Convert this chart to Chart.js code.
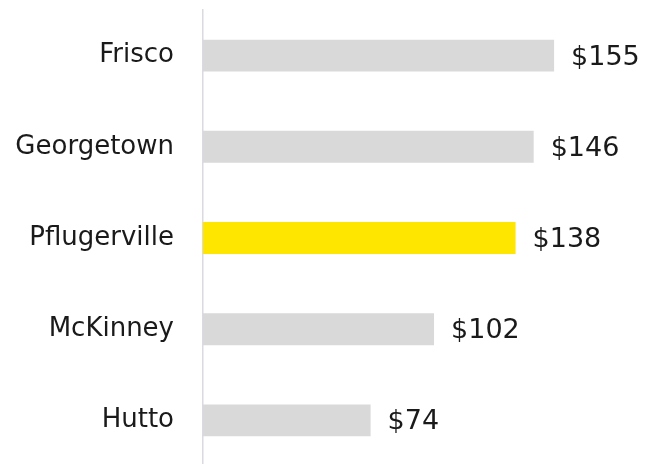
<!DOCTYPE html>
<html>
<head>
<meta charset="utf-8">
<script src="https://cdn.jsdelivr.net/npm/chart.js@4"></script>
<style>
  html, body { margin: 0; padding: 0; background: #fff; overflow: hidden; }
  #wrap { width: 660px; height: 466px; position: relative; }
</style>
</head>
<body>
<div id="wrap"><canvas id="price-chart"></canvas></div>
<script>
'use strict';

// Data
const cities       = ['Frisco', 'Georgetown', 'Pflugerville', 'McKinney', 'Hutto'];
const medianPrices = [155, 146, 138, 102, 74];
const highlightCity = 'Pflugerville';

const GREY   = '#d9d9d9';
const YELLOW = '#ffe600';
const INK    = '#1a1a1a';

Chart.defaults.font.family = "'DejaVu Sans', sans-serif";
Chart.defaults.color = INK;

// draws "$155" etc. just past the end of each bar
const valueLabels = {
  id: 'valueLabels',
  afterDatasetsDraw(chart) {
    const { ctx } = chart;
    const meta = chart.getDatasetMeta(0);
    ctx.save();
    ctx.font = "27px 'DejaVu Sans', sans-serif";
    ctx.fillStyle = INK;
    ctx.textAlign = 'left';
    ctx.textBaseline = 'middle';
    meta.data.forEach((bar, i) => {
      ctx.fillText('$' + medianPrices[i], bar.x + 17, bar.y + 2);
    });
    ctx.restore();
  }
};

new Chart(document.getElementById('price-chart'), {
  type: 'bar',
  data: {
    labels: cities,
    datasets: [{
      data: medianPrices,
      backgroundColor: cities.map(c => c === highlightCity ? YELLOW : GREY),
      borderWidth: 0,
      categoryPercentage: 1,
      barPercentage: 0.35,
    }]
  },
  options: {
    indexAxis: 'y',
    responsive: true,
    maintainAspectRatio: false,
    animation: false,
    layout: { padding: { top: 10, right: 4, bottom: 0, left: 0 } },
    plugins: {
      legend: { display: false },
      tooltip: { enabled: false },
    },
    scales: {
      x: {
        display: false,
        min: 0, max: 200,
      },
      y: {
        grid: { display: false, drawTicks: false },
        border: { display: true, color: '#dadae0', width: 1.5 },
        ticks: {
          padding: 29,
          color: INK,
          font: { size: 26 },
        },
        // fixed axis width, and no extra room above/below for the labels
        afterFit: s => {
          s.width = 203;
          s.paddingTop = 0;
          s.paddingBottom = 0;
        },
      }
    }
  },
  plugins: [valueLabels]
});
</script>
</body>
</html>
